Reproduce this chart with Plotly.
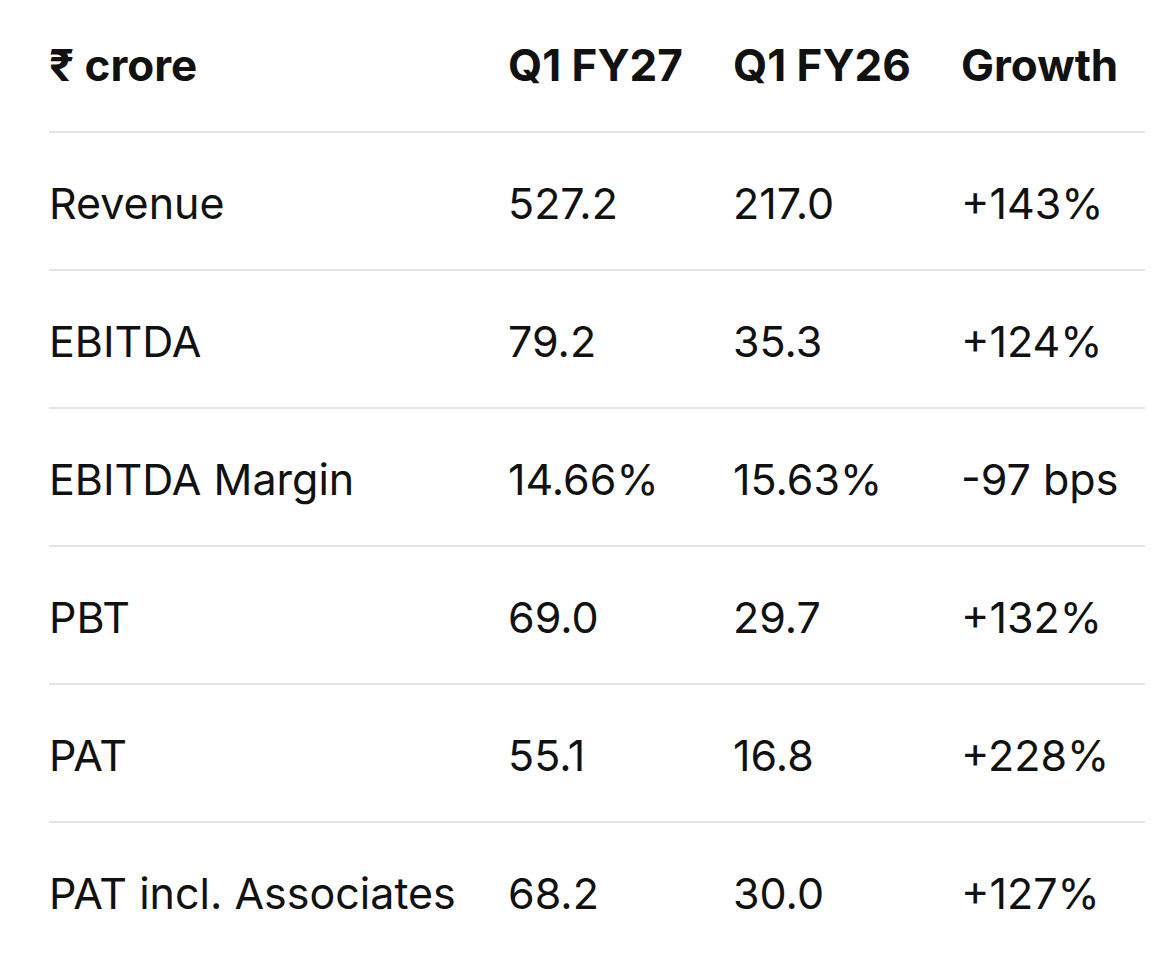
import plotly.graph_objects as go

# table content
headers = ["₹ crore", "Q1 FY27", "Q1 FY26", "Growth"]
metrics = ["Revenue", "EBITDA", "EBITDA Margin", "PBT", "PAT", "PAT incl. Associates"]
q1_fy27 = ["527.2", "79.2", "14.66%", "69.0", "55.1", "68.2"]
q1_fy26 = ["217.0", "35.3", "15.63%", "29.7", "16.8", "30.0"]
growth = ["+143%", "+124%", "-97 bps", "+132%", "+228%", "+127%"]

# layout constants (pixels of the browser window)
page_margin = 8  # default body margin of the html page
W, H = 1170, 955
col_x = [49, 508, 733, 961]
line_x0, line_x1 = 49, 1145
font_family = "Inter, Roboto, sans-serif"
body_size = 43
head_size = 44
text_color = "#111111"
rule_color = "#e4e4e4"

columns = [metrics, q1_fy27, q1_fy26, growth]
n_rows = len(metrics)

row_px = 138
top_px = 70          # centre of the header row
rule_off = -7 / row_px  # rules sit a little above the midpoint between rows

fig = go.Figure()

# header row at index 0
fig.add_trace(go.Scatter(
    x=col_x, y=[0] * len(headers),
    mode="text", text=[f"<b>{h}</b>" for h in headers],
    textposition="middle right",
    textfont=dict(family=font_family, size=head_size, color=text_color),
    hoverinfo="skip", showlegend=False
))

# body rows at index 1..n
for cx, values in zip(col_x, columns):
    fig.add_trace(go.Scatter(
        x=[cx] * n_rows, y=list(range(1, n_rows + 1)),
        mode="text", text=values,
        textposition="middle right",
        textfont=dict(family=font_family, size=body_size, color=text_color),
        hoverinfo="skip", showlegend=False
    ))

# horizontal rules between rows
for i in range(n_rows):
    yy = i + 0.5 + rule_off
    fig.add_shape(type="line", xref="x", yref="y",
                  x0=line_x0, x1=line_x1, y0=yy, y1=yy,
                  line=dict(color=rule_color, width=2))

fig_w, fig_h = W - 2 * page_margin, H - 2 * page_margin
y_top = (page_margin - top_px) / row_px
y_bot = (page_margin + fig_h - top_px) / row_px
fig.update_layout(
    width=fig_w, height=fig_h,
    margin=dict(l=0, r=0, t=0, b=0),
    paper_bgcolor="white", plot_bgcolor="white",
    xaxis=dict(range=[page_margin, page_margin + fig_w], visible=False, fixedrange=True),
    yaxis=dict(range=[y_bot, y_top], visible=False, fixedrange=True),
)

fig.write_html("out.html")
